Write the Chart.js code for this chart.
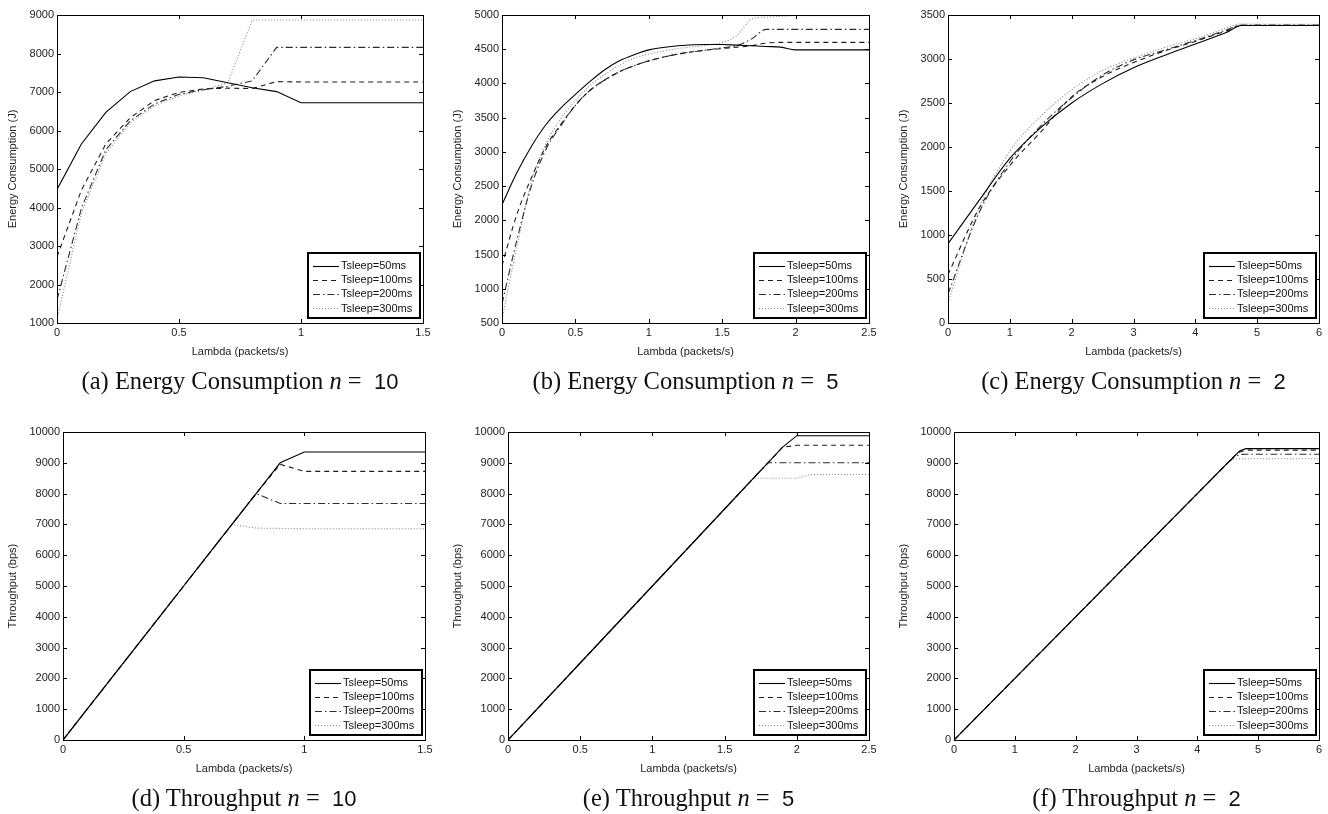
<!DOCTYPE html>
<html>
<head>
<meta charset="utf-8">
<script src="https://cdn.jsdelivr.net/npm/chart.js@4.4.1/dist/chart.umd.min.js"></script>
<style>
  body { margin: 0; background: #fff; width: 1328px; height: 814px; position: relative; overflow: hidden; }
  canvas { position: absolute; }
  .cap { position: absolute; font-family: 'Liberation Serif', 'Times New Roman', serif; font-size: 24.5px;
         line-height: 24px; color: #111; white-space: nowrap; transform: translateX(-50%); }
  .cap .num { font-family: 'Liberation Sans', Arial, sans-serif; font-size: 22px; }
</style>
</head>
<body>
<script>
// ── Data ───────────────────────────────────────────────────────────
const seriesLabels = ['Tsleep=50ms', 'Tsleep=100ms', 'Tsleep=200ms', 'Tsleep=300ms'];

// (a) energy, n = 10
const aLam = [0, 0.1, 0.2, 0.3, 0.4, 0.5, 0.6, 0.7, 0.8, 0.9, 1.0, 1.5];
const a50  = [4470, 5650, 6470, 7010, 7290, 7390, 7370, 7240, 7110, 7010, 6720, 6720];
const a100 = [2720, 4450, 5650, 6330, 6780, 6990, 7080, 7100, 7090, 7270, 7260, 7260];
const a200 = [1600, 3980, 5500, 6250, 6690, 6940, 7060, 7150, 7290, 8160, 8160, 8160];
const a300 = [1100, 3850, 5400, 6200, 6640, 6900, 7050, 7240, 8870, 8870, 8870, 8870];

// (b) energy, n = 5
const bLam = [0, 0.1, 0.2, 0.3, 0.4, 0.5, 0.6, 0.7, 0.8, 0.9, 1.0, 1.2, 1.4, 1.5, 1.6, 1.7, 1.8, 1.9, 2.0, 2.1, 2.5];
const b50  = [2230, 2690, 3080, 3400, 3640, 3840, 4030, 4200, 4330, 4420, 4490, 4550, 4570, 4570, 4560, 4550, 4540, 4530, 4490, 4490, 4490];
const b100 = [1340, 2080, 2620, 3080, 3400, 3680, 3900, 4050, 4170, 4260, 4330, 4430, 4490, 4510, 4530, 4550, 4590, 4600, 4600, 4600, 4600];
const b200 = [780, 1700, 2500, 3040, 3380, 3680, 3900, 4050, 4170, 4260, 4330, 4430, 4490, 4520, 4555, 4650, 4790, 4790, 4790, 4790, 4790];
const b300 = [560, 1600, 2560, 3120, 3480, 3750, 3970, 4130, 4270, 4370, 4430, 4510, 4560, 4600, 4700, 4940, 4970, 4980, 4990, 4990, 4990];

// (c) energy, n = 2
const cLam = [0, 0.5, 1, 1.5, 2, 2.5, 3, 3.5, 4, 4.5, 4.75, 5, 6];
const c50  = [900, 1390, 1870, 2220, 2500, 2720, 2900, 3040, 3170, 3300, 3380, 3380, 3380];
const c100 = [550, 1300, 1790, 2170, 2570, 2800, 2960, 3090, 3200, 3320, 3380, 3380, 3380];
const c200 = [330, 1250, 1830, 2240, 2560, 2820, 2990, 3100, 3210, 3330, 3385, 3385, 3385];
const c300 = [230, 1300, 1950, 2350, 2650, 2870, 3010, 3130, 3230, 3350, 3400, 3395, 3395];

// (d) throughput, n = 10
const dLam = [0, 0.1, 0.2, 0.3, 0.4, 0.5, 0.6, 0.7, 0.8, 0.9, 1.0, 1.5];
const d50  = [0, 1000, 2000, 3000, 4000, 5000, 6000, 7000, 8000, 9000, 9350, 9350];
const d100 = [0, 1000, 2000, 3000, 4000, 5000, 6000, 7000, 8000, 8950, 8720, 8720];
const d200 = [0, 1000, 2000, 3000, 4000, 5000, 6000, 7000, 8000, 7680, 7680, 7680];
const d300 = [0, 1000, 2000, 3000, 4000, 5000, 6000, 7000, 6880, 6870, 6860, 6860];

// (e) throughput, n = 5
const eLam = [0, 0.5, 1, 1.5, 1.7, 1.8, 1.9, 2.0, 2.1, 2.5];
const e50  = [0, 2500, 5000, 7500, 8500, 9000, 9500, 9880, 9880, 9880];
const e100 = [0, 2500, 5000, 7500, 8500, 9000, 9500, 9570, 9570, 9570];
const e200 = [0, 2500, 5000, 7500, 8500, 9000, 9000, 9000, 9000, 9000];
const e300 = [0, 2500, 5000, 7500, 8500, 8500, 8500, 8500, 8620, 8620];

// (f) throughput, n = 2
const fLam = [0, 1, 2, 3, 4, 4.5, 4.6, 4.7, 4.8, 6];
const f50  = [0, 2000, 4000, 6000, 8000, 9000, 9200, 9390, 9460, 9460];
const f100 = [0, 2000, 4000, 6000, 8000, 9000, 9200, 9350, 9410, 9410];
const f200 = [0, 2000, 4000, 6000, 8000, 9000, 9180, 9270, 9280, 9280];
const f300 = [0, 2000, 4000, 6000, 8000, 9000, 9120, 9130, 9130, 9130];

// ── Panel layout ──────────────────────────────────────────────────
// plot rect [left, top, right, bottom] in page pixels
const panels = [
  { tag: '(a)', kind: 'Energy Consumption', n: '10', lam: aLam, ys: [a50, a100, a200, a300],
    rect: [57, 15, 423, 323], x: [0, 1.5, 0.5], y: [1000, 9000, 1000], smooth: false },
  { tag: '(b)', kind: 'Energy Consumption', n: '5',  lam: bLam, ys: [b50, b100, b200, b300],
    rect: [502, 15, 869, 323], x: [0, 2.5, 0.5], y: [500, 5000, 500], smooth: true },
  { tag: '(c)', kind: 'Energy Consumption', n: '2',  lam: cLam, ys: [c50, c100, c200, c300],
    rect: [948, 15, 1319, 323], x: [0, 6, 1], y: [0, 3500, 500], smooth: true },
  { tag: '(d)', kind: 'Throughput', n: '10', lam: dLam, ys: [d50, d100, d200, d300],
    rect: [63, 432, 425, 740], x: [0, 1.5, 0.5], y: [0, 10000, 1000], smooth: false },
  { tag: '(e)', kind: 'Throughput', n: '5',  lam: eLam, ys: [e50, e100, e200, e300],
    rect: [508, 432, 869, 740], x: [0, 2.5, 0.5], y: [0, 10000, 1000], smooth: false },
  { tag: '(f)', kind: 'Throughput', n: '2',  lam: fLam, ys: [f50, f100, f200, f300],
    rect: [954, 432, 1319, 740], x: [0, 6, 1], y: [0, 10000, 1000], smooth: false },
];

const lineStyles = [
  { color: '#000000', dash: [] },
  { color: '#1e1e1e', dash: [5, 4] },
  { color: '#2e2e2e', dash: [7, 3, 1.5, 3] },
  { color: '#858585', dash: [1, 2] },
];

const FONT = "'Liberation Sans', Arial, Helvetica, sans-serif";
Chart.defaults.font.family = FONT;
Chart.defaults.font.size = 11;
Chart.defaults.color = '#222';

const PAD_L = 60, PAD_T = 15, PAD_R = 12, PAD_B = 45;

// MATLAB-style box: frame, inward ticks on all four sides, legend bottom-right
const matlabBox = {
  id: 'matlabBox',
  afterDatasetsDraw(chart) {
    const { ctx, chartArea: a, scales } = chart;
    ctx.save();
    ctx.strokeStyle = '#000';
    ctx.lineWidth = 1;
    ctx.strokeRect(Math.round(a.left) + 0.5, Math.round(a.top) + 0.5,
                   Math.round(a.right - a.left), Math.round(a.bottom - a.top));
    ctx.beginPath();
    scales.x.ticks.forEach(t => {
      const px = Math.round(scales.x.getPixelForValue(t.value)) + 0.5;
      ctx.moveTo(px, a.bottom); ctx.lineTo(px, a.bottom - 4);
      ctx.moveTo(px, a.top);    ctx.lineTo(px, a.top + 4);
    });
    scales.y.ticks.forEach(t => {
      const py = Math.round(scales.y.getPixelForValue(t.value)) + 0.5;
      ctx.moveTo(a.left, py);  ctx.lineTo(a.left + 4, py);
      ctx.moveTo(a.right, py); ctx.lineTo(a.right - 4, py);
    });
    ctx.stroke();

    // legend
    const w = 112, h = 65;
    const bx = Math.round(a.right - 3 - w), by = Math.round(a.bottom - 5 - h);
    ctx.fillStyle = '#fff';
    ctx.fillRect(bx, by, w, h);
    ctx.lineWidth = 2;
    ctx.strokeStyle = '#000';
    ctx.strokeRect(bx, by, w, h);
    ctx.font = '11px ' + FONT;
    ctx.textBaseline = 'middle';
    ctx.textAlign = 'left';
    chart.data.datasets.forEach((ds, i) => {
      const yy = by + 12.5 + i * 14.2;
      ctx.beginPath();
      ctx.lineWidth = ds.borderWidth;
      ctx.strokeStyle = ds.borderColor;
      ctx.setLineDash(ds.borderDash);
      ctx.moveTo(bx + 5, Math.round(yy) + 0.5);
      ctx.lineTo(bx + 31, Math.round(yy) + 0.5);
      ctx.stroke();
      ctx.setLineDash([]);
      ctx.fillStyle = '#111';
      ctx.fillText(ds.label, bx + 33, yy + 0.5);
    });
    ctx.restore();
  }
};

panels.forEach(p => {
  const [L, T, R, B] = p.rect;
  const cv = document.createElement('canvas');
  const W = R - L + PAD_L + PAD_R, H = B - T + PAD_T + PAD_B;
  cv.width = W; cv.height = H;
  cv.style.left = (L - PAD_L) + 'px';
  cv.style.top = (T - PAD_T) + 'px';
  cv.style.width = W + 'px';
  cv.style.height = H + 'px';
  document.body.appendChild(cv);

  const energy = p.kind === 'Energy Consumption';

  new Chart(cv, {
    type: 'line',
    data: {
      datasets: p.ys.map((vals, i) => ({
        label: seriesLabels[i],
        data: p.lam.map((x, k) => ({ x, y: vals[k] })),
        borderColor: lineStyles[i].color,
        borderDash: lineStyles[i].dash,
        borderWidth: 1.1,
        pointRadius: 0,
        tension: 0,
        cubicInterpolationMode: p.smooth ? 'monotone' : 'default',
        fill: false,
      }))
    },
    options: {
      responsive: false,
      animation: false,
      events: [],
      layout: { padding: { left: 0, top: PAD_T, right: PAD_R, bottom: 0 } },
      plugins: { legend: { display: false }, tooltip: { enabled: false } },
      scales: {
        x: {
          type: 'linear', min: p.x[0], max: p.x[1],
          afterFit: s => { s.height = PAD_B; },
          ticks: { stepSize: p.x[2], padding: 3, autoSkip: false, maxRotation: 0, color: '#222',
                   callback: v => String(v) },
          grid: { display: false, drawTicks: false },
          border: { display: false },
          title: { display: true, text: 'Lambda (packets/s)', color: '#222',
                   font: { size: 11 }, padding: { top: 0, bottom: 9 } },
        },
        y: {
          type: 'linear', min: p.y[0], max: p.y[1],
          afterFit: s => { s.width = PAD_L; },
          ticks: { stepSize: p.y[2], padding: 3, autoSkip: false, color: '#222',
                   callback: v => String(v) },
          grid: { display: false, drawTicks: false },
          border: { display: false },
          title: { display: true, text: energy ? 'Energy Consumption (J)' : 'Throughput (bps)', color: '#222',
                   font: { size: 11 }, padding: { top: energy ? 9.4 : 3.4, bottom: 0 } },
        }
      }
    },
    plugins: [matlabBox]
  });

  const cap = document.createElement('div');
  cap.className = 'cap';
  cap.style.left = ((L + R) / 2) + 'px';
  cap.style.top = (B + 46) + 'px';
  cap.innerHTML = p.tag + ' ' + p.kind + ' <i>n</i> = &nbsp;<span class="num">' + p.n + '</span>';
  document.body.appendChild(cap);
});
</script>
</body>
</html>
